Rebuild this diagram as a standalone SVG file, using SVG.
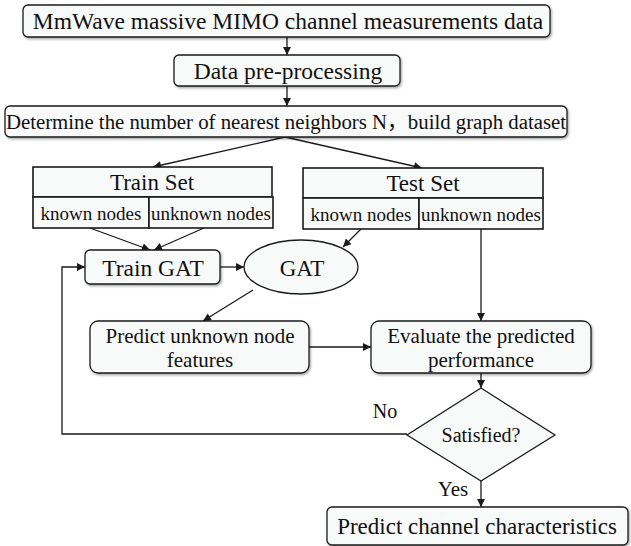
<svg xmlns="http://www.w3.org/2000/svg" width="631" height="546" viewBox="0 0 631 546">
<style>
  .box{fill:#f8f9f9;stroke:#1a1a1a;stroke-width:1.3}
  .cell{fill:#f8f9f9;stroke:#1a1a1a;stroke-width:1.6}
  .t{font-family:"Liberation Serif","Times New Roman",serif;fill:#111;text-anchor:middle}
  .cjk{font-family:"Noto Sans CJK SC",sans-serif}
  .l{fill:none;stroke:#1a1a1a;stroke-width:1.3}
</style>
<defs>
  <marker id="ah" viewBox="0 0 10 10" refX="10" refY="5" markerWidth="9" markerHeight="8" markerUnits="userSpaceOnUse" orient="auto">
    <path d="M0,0 L10,5 L0,10 z" fill="#1a1a1a"/>
  </marker>
  <filter id="sh" x="-5%" y="-10%" width="110%" height="130%">
    <feDropShadow dx="1.2" dy="1.5" stdDeviation="1" flood-color="#000" flood-opacity="0.35"/>
  </filter>
</defs>
<rect width="631" height="546" fill="#fff"/>

<g id="connectors" class="l">
  <line x1="287" y1="37" x2="287" y2="55" marker-end="url(#ah)"/>
  <line x1="287" y1="86" x2="287" y2="106" marker-end="url(#ah)"/>
  <line x1="285" y1="137" x2="153" y2="167" marker-end="url(#ah)"/>
  <line x1="285" y1="137" x2="422" y2="168" marker-end="url(#ah)"/>
  <line x1="90" y1="228" x2="150" y2="250" marker-end="url(#ah)"/>
  <line x1="204" y1="228" x2="154" y2="250" marker-end="url(#ah)"/>
  <line x1="220" y1="267" x2="244" y2="267" marker-end="url(#ah)"/>
  <line x1="361" y1="229" x2="343" y2="247" marker-end="url(#ah)"/>
  <line x1="253" y1="290" x2="203" y2="321" marker-end="url(#ah)"/>
  <line x1="481" y1="229" x2="481" y2="321" marker-end="url(#ah)"/>
  <line x1="309" y1="347" x2="371" y2="347" marker-end="url(#ah)"/>
  <line x1="481" y1="373" x2="481" y2="388" marker-end="url(#ah)"/>
  <line x1="481" y1="481" x2="481" y2="507" marker-end="url(#ah)"/>
  <polyline points="407,434 62,434 62,267 85,267" marker-end="url(#ah)"/>
</g>

<g id="n1">
  <rect class="box" x="23" y="5" width="527" height="32" rx="5" filter="url(#sh)"/>
  <text class="t" x="288" y="29" font-size="23.5">MmWave massive MIMO channel measurements data</text>
</g>
<g id="n2">
  <rect class="box" x="174" y="55" width="226" height="31" rx="5" filter="url(#sh)"/>
  <text class="t" x="288" y="79" font-size="23.5">Data pre-processing</text>
</g>
<g id="n3">
  <rect class="box" x="5" y="106" width="562" height="31" rx="5" filter="url(#sh)"/>
  <text class="t" x="286" y="129" font-size="20.8">Determine the number of nearest neighbors N<tspan class="cjk">，</tspan>build graph dataset</text>
</g>

<g id="trainset">
  <rect class="cell" x="33" y="167" width="239" height="30"/>
  <rect class="cell" x="33" y="197" width="116" height="31"/>
  <rect class="cell" x="149" y="197" width="124" height="31"/>
  <text class="t" x="152" y="190" font-size="23">Train Set</text>
  <text class="t" x="91" y="220" font-size="19">known nodes</text>
  <text class="t" x="211" y="220" font-size="19">unknown nodes</text>
</g>
<g id="testset">
  <rect class="cell" x="303" y="168" width="240" height="30"/>
  <rect class="cell" x="303" y="198" width="116" height="31"/>
  <rect class="cell" x="419" y="198" width="124" height="31"/>
  <text class="t" x="423" y="191" font-size="23">Test Set</text>
  <text class="t" x="361" y="221" font-size="19">known nodes</text>
  <text class="t" x="481" y="221" font-size="19">unknown nodes</text>
</g>

<g id="traingat">
  <rect class="box" x="85" y="250" width="135" height="34" rx="5" filter="url(#sh)"/>
  <text class="t" x="153" y="276" font-size="23.5">Train GAT</text>
</g>
<g id="gat">
  <ellipse class="box" cx="301" cy="267" rx="57" ry="27"/>
  <text class="t" x="302" y="276" font-size="23">GAT</text>
</g>
<g id="predict">
  <rect class="box" x="90" y="321" width="219" height="52" rx="8" filter="url(#sh)"/>
  <text class="t" x="200" y="343" font-size="21">Predict unknown node</text>
  <text class="t" x="200" y="367" font-size="21">features</text>
</g>
<g id="evaluate">
  <rect class="box" x="371" y="321" width="220" height="52" rx="8" filter="url(#sh)"/>
  <text class="t" x="481" y="343" font-size="21">Evaluate the predicted</text>
  <text class="t" x="481" y="367" font-size="21">performance</text>
</g>
<g id="decision">
  <polygon class="box" points="481,388 555,435 481,481 407,435"/>
  <text class="t" x="481" y="442" font-size="20">Satisfied?</text>
</g>
<g id="final">
  <rect class="box" x="327" y="507" width="301" height="38" rx="5" filter="url(#sh)"/>
  <text class="t" x="477" y="534" font-size="23">Predict channel characteristics</text>
</g>
<g id="labels">
  <text class="t" x="385" y="418" font-size="20">No</text>
  <text class="t" x="453" y="496" font-size="21">Yes</text>
</g>
</svg>
